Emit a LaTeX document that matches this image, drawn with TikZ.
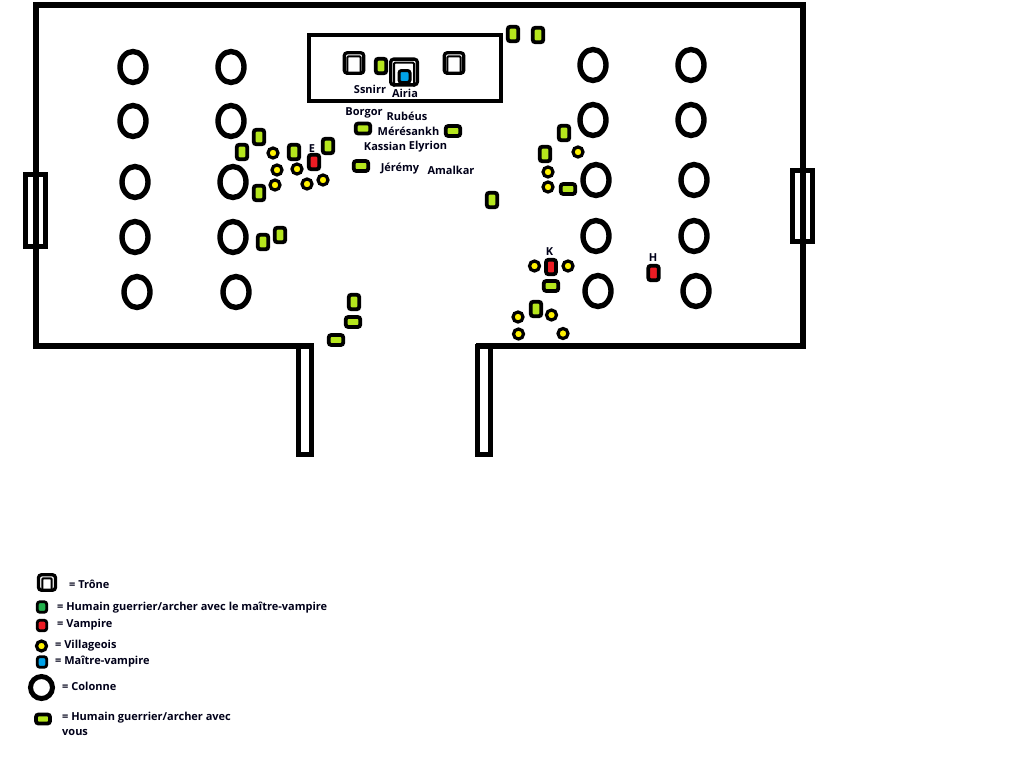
\documentclass[tikz,border=0pt]{standalone}
\usepackage{fontspec}
\setmainfont{Open Sans}
\usetikzlibrary{shapes.geometric}
\definecolor{ally}{HTML}{B5E61D}
\definecolor{guard}{HTML}{22B14C}
\definecolor{vamp}{HTML}{ED1C24}
\definecolor{peasant}{HTML}{FFF200}
\definecolor{master}{HTML}{00A2E8}
\tikzset{
  wall/.style={draw=black,line width=6pt,line cap=butt},
  bar/.style={draw=black,line width=5pt,fill=white,line join=miter},
  pillar/.style={ellipse,draw=black,line width=5.4pt,fill=white,inner sep=0pt,minimum width=26pt,minimum height=31pt},
  token/.style={rectangle,rounded corners=2.5pt,draw=black,line width=3.8pt,inner sep=0pt},
  ahoriz/.style={token,fill=ally,minimum width=14.5pt,minimum height=10pt},
  avert/.style={token,fill=ally,minimum width=10.5pt,minimum height=14.5pt},
  vampire/.style={token,fill=vamp,minimum width=10.5pt,minimum height=14.5pt},
  minitoken/.style={token,line width=2.8pt,minimum width=9.5pt,minimum height=10.5pt},
  villager/.style={circle,draw=black,line width=3.2pt,fill=peasant,inner sep=0pt,minimum size=10pt},
  seat/.style={rectangle,rounded corners=3pt,draw=black,line width=3.3pt,fill=white,inner sep=0pt},
  arch/.style={draw=black,line width=2pt,line cap=butt,rounded corners=1pt},
  lab/.style={inner sep=0pt,font=\fontsize{11pt}{12pt}\selectfont\bfseries,text=black!90!blue},
  key/.style={lab,anchor=west}
}
% A throne: name, centre, frame width, frame height, half width of the inner arch
\newcommand{\throne}[5]{%
  \node[seat,minimum width=#3pt,minimum height=#4pt] (#1) at (#2) {};
  \draw[arch] ([xshift=-#5pt]#1.south) -- ([xshift=-#5pt,yshift=-5.2pt]#1.north)
    -- ([xshift=#5pt,yshift=-5.2pt]#1.north) -- ([xshift=#5pt]#1.south);
}
\begin{document}
\begin{tikzpicture}[x=1pt,y=-1pt]
\useasboundingbox (0,0) rectangle (1024,768);
\fill[white] (0,0) rectangle (1024,768);

% Corridor walls
\draw[bar] (298.5,346) rectangle (311.5,454.5);
\draw[bar] (477.5,346) rectangle (490.5,454.5);

% Side doors
\draw[bar] (25.5,174.5) rectangle (45.5,246.5);
\draw[bar] (792.5,170.5) rectangle (812.5,241.5);

% Hall outline
\draw[wall,line join=miter] (314,346) -- (36,346) -- (36,5) -- (803,5) -- (803,346) -- (476,346);

% Dais
\draw[black,line width=4pt] (309,35) rectangle (501,101);

% Columns
\foreach \n/\px/\py in {a/133/67,b/231/67,c/133/121,d/231/121,e/135/182,f/233/182,g/135/237,h/233/237,i/137/292,j/236/292,
  k/593/65,l/691/65,m/593/120,n/691/120,o/596/180,p/694/180,q/596/236,r/694/236,s/598/291,t/696/291}
  \node[pillar] (col\n) at (\px,\py) {};

% Thrones and the master vampire
\throne{thronel}{354,63}{19.5}{20.5}{6.6}
\throne{thronerr}{454,63}{19.5}{20.5}{6.6}
\throne{thronec}{404,72}{26.7}{25.7}{10}
\node[token,fill=master,minimum width=11pt,minimum height=12pt,line width=3pt] (airia) at (404.5,76.5) {};

% Warriors
\foreach \n/\px/\py in {1/381/66,2/513/34,3/538/35,4/328/146,5/259/137,6/242/152,7/294/152,8/259/193,9/263/242,10/280/235,
  11/564/133,12/545/154,13/492/200,14/536/309,15/354/302}
  \node[avert] (wv\n) at (\px,\py) {};
\foreach \n/\px/\py in {1/363/128.5,2/453/131,3/361/166,4/568/189,5/551/286,6/353/322,7/336/340}
  \node[ahoriz] (wh\n) at (\px,\py) {};

% Vampires
\node[vampire] (vampe) at (314,162) {};
\node[vampire,minimum width=10pt] (vampk) at (551,267) {};
\node[vampire] (vamph) at (653.5,273) {};

% Villagers
\foreach \n/\px/\py in {1/273/153,2/277/170,3/275/185,4/297/169,5/307/184,6/323/180,
  7/578/152,8/548/172,9/548/187,10/534.5/266,11/568/266,12/518/317,13/551.5/315,14/518.5/334,15/563/333.5}
  \node[villager] (vil\n) at (\px,\py) {};

% Names
\node[lab] (nssnirr) at (370,89.7) {Ssnirr};
\node[lab] (nairia) at (405,93.7) {Airia};
\node[lab] (nborgor) at (364,112.7) {Borgor};
\node[lab] (nrubeus) at (407,116.7) {Rubéus};
\node[lab] (nmeres) at (408.5,131.7) {Mérésankh};
\node[lab] (nkassian) at (385,146.7) {Kassian};
\node[lab] (nelyrion) at (428,146.7) {Elyrion};
\node[lab] (njeremy) at (400,168.7) {Jérémy};
\node[lab] (namalkar) at (451,170.7) {Amalkar};
\node[lab] (ne) at (312,148.7) {E};
\node[lab] (nk) at (549.5,251.7) {K};
\node[lab] (nh) at (653,257.7) {H};

% Key
\throne{keythrone}{47,582.5}{17}{15.5}{4.7}
\node[minitoken,fill=guard] (keyguard) at (42,607) {};
\node[minitoken,fill=vamp] (keyvamp) at (42,625.5) {};
\node[villager] (keyvil) at (41.5,646) {};
\node[minitoken,fill=master] (keymaster) at (42,662) {};
\node[ellipse,draw=black,line width=5pt,fill=white,inner sep=0pt,minimum width=22pt,minimum height=22pt] (keycol) at (41.5,687.5) {};
\node[ahoriz,minimum width=14pt,minimum height=9pt] (keyally) at (43,719) {};

\node[key] (t1) at (69,584.7) {= Trône};
\node[key] (t2) at (57,607.7) {= Humain guerrier/archer avec le maître-vampire};
\node[key] (t3) at (57,624.7) {= Vampire};
\node[key] (t4) at (55,645.7) {= Villageois};
\node[key] (t5) at (55,661.7) {= Maître-vampire};
\node[key] (t6) at (62,686.7) {= Colonne};
\node[key] (t7) at (62,717.7) {= Humain guerrier/archer avec};
\node[key] (t8) at (62,732.7) {vous};
\end{tikzpicture}
\end{document}
